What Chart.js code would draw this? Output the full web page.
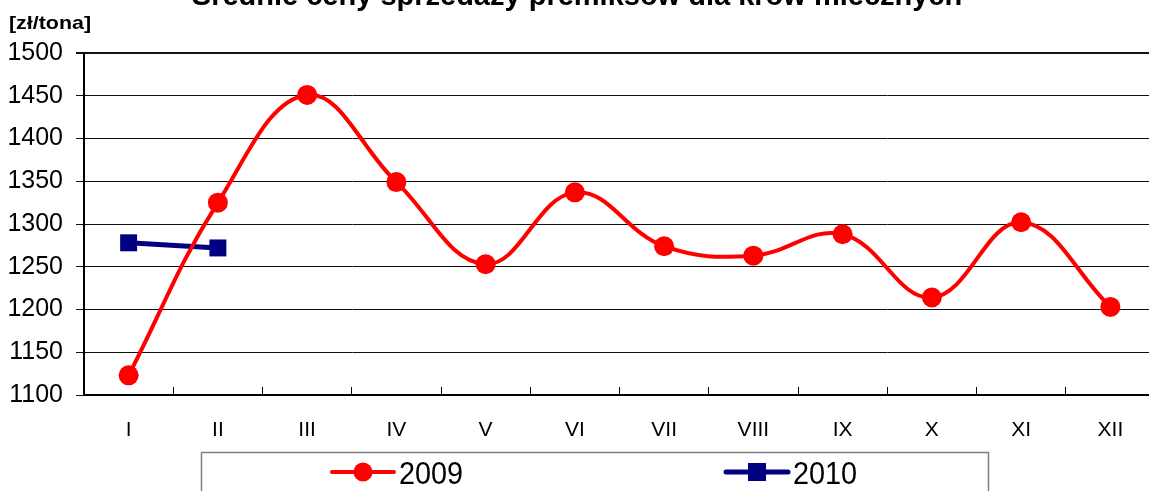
<!DOCTYPE html>
<html>
<head>
<meta charset="utf-8">
<script src="https://cdn.jsdelivr.net/npm/chart.js@4.4.1/dist/chart.umd.min.js"></script>
<style>
    html, body { margin: 0; padding: 0; background: #fff; overflow: hidden; }
    #wrap { width: 1167px; height: 491px; }
</style>
</head>
<body>
<div id="wrap"><canvas id="chart" width="1167" height="491"></canvas></div>
<script>
const months = ['I', 'II', 'III', 'IV', 'V', 'VI', 'VII', 'VIII', 'IX', 'X', 'XI', 'XII'];
const prices2009 = [1123, 1325, 1451, 1349, 1253, 1337, 1274, 1263, 1288, 1214, 1302, 1203];
const prices2010 = [1278, 1272];
const yTicks = [1100, 1150, 1200, 1250, 1300, 1350, 1400, 1450, 1500];

const titleText = 'Średnie ceny sprzedaży premiksów dla krów mlecznych';
const unitText = '[zł/tona]';
const FONT = 'Arial, "Liberation Sans", sans-serif';

// title (cut at the top edge) and unit label
const headerPlugin = {
    id: 'header',
    afterDraw(chart) {
        const ctx = chart.ctx;
        ctx.save();
        ctx.fillStyle = '#000';
        ctx.font = 'bold 29px ' + FONT;
        ctx.textAlign = 'center';
        ctx.textBaseline = 'alphabetic';
        ctx.fillText(titleText, 577, 5);
        ctx.font = 'bold 19px ' + FONT;
        ctx.textAlign = 'left';
        ctx.textBaseline = 'middle';
        // unit label is stretched to ~82px in the original
        const w = ctx.measureText(unitText).width;
        ctx.save();
        ctx.translate(9, 24);
        ctx.scale(82 / w, 1);
        ctx.fillText(unitText, 0, 0);
        ctx.restore();
        ctx.restore();
    }
};

// framed legend under the axis
const legendBoxPlugin = {
    id: 'legendBox',
    afterDraw(chart) {
        const ctx = chart.ctx;
        ctx.save();
        ctx.strokeStyle = '#7f7f7f';
        ctx.lineWidth = 1.5;
        ctx.strokeRect(201.5, 452.5, 787, 60);
        const items = [
            { x: 332, ds: chart.data.datasets[0] },
            { x: 726, ds: chart.data.datasets[1] }
        ];
        const y = 472;
        items.forEach(it => {
            ctx.strokeStyle = it.ds.borderColor;
            ctx.fillStyle = it.ds.borderColor;
            ctx.lineWidth = it.ds.borderWidth;
            ctx.lineCap = 'round';
            ctx.beginPath();
            ctx.moveTo(it.x, y);
            ctx.lineTo(it.x + 62, y);
            ctx.stroke();
            if (it.ds.pointStyle === 'circle') {
                ctx.beginPath();
                ctx.arc(it.x + 31, y, 9.5, 0, Math.PI * 2);
                ctx.fill();
            } else {
                ctx.fillRect(it.x + 22, y - 9, 18, 18);
            }
            ctx.fillStyle = '#000';
            ctx.font = '32px ' + FONT;
            ctx.textAlign = 'left';
            ctx.textBaseline = 'middle';
            ctx.save();
            ctx.translate(it.x + 67, y + 3);
            ctx.scale(0.9, 1);
            ctx.fillText(it.ds.label, 0, 0);
            ctx.restore();
        });
        ctx.restore();
    }
};

new Chart(document.getElementById('chart'), {
    type: 'line',
    data: {
        labels: months,
        datasets: [
            {
                label: '2009',
                data: prices2009,
                borderColor: '#ff0000',
                backgroundColor: '#ff0000',
                borderWidth: 4,
                tension: 0.4,
                pointStyle: 'circle',
                pointRadius: 10,
                pointHoverRadius: 10,
                pointBorderWidth: 0
            },
            {
                label: '2010',
                data: prices2010,
                borderColor: '#000080',
                backgroundColor: '#000080',
                borderWidth: 5,
                tension: 0,
                pointStyle: 'rect',
                pointRadius: 12,
                pointHoverRadius: 12,
                pointBorderWidth: 0
            }
        ]
    },
    options: {
        responsive: false,
        animation: false,
        events: [],
        layout: { padding: { top: 53, left: 0, right: 0, bottom: 0 } },
        plugins: {
            legend: { display: false },
            title: { display: false },
            tooltip: { enabled: false }
        },
        scales: {
            x: {
                type: 'category',
                offset: true,
                grid: {
                    display: true,
                    offset: true,
                    drawOnChartArea: false,
                    color: '#000',
                    lineWidth: 1,
                    tickLength: -8
                },
                border: { display: true, color: '#000', width: 2 },
                ticks: {
                    color: '#000',
                    font: { family: FONT, size: 21 },
                    padding: 31,
                    maxRotation: 0,
                    autoSkip: false
                },
                afterFit(scale) { scale.height = 96; }
            },
            y: {
                min: 1100,
                max: 1500,
                afterBuildTicks(scale) { scale.ticks = yTicks.map(v => ({ value: v })); },
                grid: {
                    color: '#111',
                    lineWidth: ctx => (ctx.tick && ctx.tick.value === 1500 ? 2 : 1),
                    tickLength: 8
                },
                border: { display: true, color: '#000', width: 2 },
                ticks: {
                    color: '#000',
                    font: { family: FONT, size: 25 },
                    padding: 13,
                    callback: v => String(v)
                },
                afterFit(scale) { scale.width = 84; }
            }
        }
    },
    plugins: [headerPlugin, legendBoxPlugin]
});
</script>
</body>
</html>
